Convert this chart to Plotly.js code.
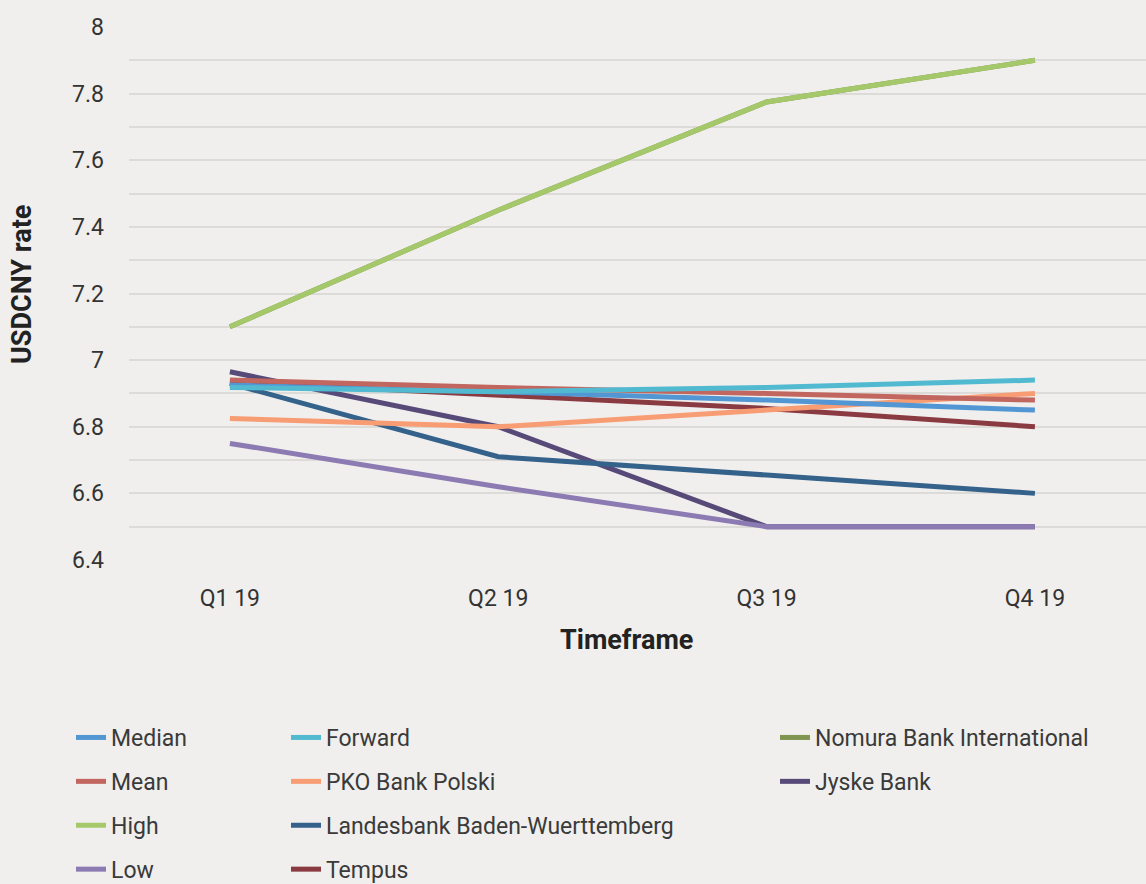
<!DOCTYPE html>
<html>
<head>
<meta charset="utf-8">
<script src="https://cdn.plot.ly/plotly-3.0.1.min.js"></script>
<style>
  html, body { margin: 0; padding: 0; background: #f0efed; }
  #chart { width: 1146px; height: 884px; }
</style>
</head>
<body>
<div id="chart"></div>
<script>
// ---- Data ----
const quarters = ["Q1 19", "Q2 19", "Q3 19", "Q4 19"];

const median   = [6.925, 6.905, 6.880, 6.850];
const mean     = [6.940, 6.918, 6.900, 6.880];
const high     = [7.100, 7.450, 7.775, 7.900];
const low      = [6.750, 6.620, 6.500, 6.500];
const forward  = [6.918, 6.905, 6.918, 6.940];
const pko      = [6.825, 6.800, 6.850, 6.900];
const lbbw     = [6.930, 6.710, 6.655, 6.600];
const tempus   = [6.935, 6.895, 6.855, 6.800];
const nomura   = [7.100, 7.450, 7.775, 7.900];
const jyske    = [6.965, 6.800, 6.500, 6.500];

const xTitle = "Timeframe";
const yTitle = "USDCNY rate";

// ---- Series definitions (draw order) ----
const series = [
  {name: "Nomura Bank International", y: nomura, color: "#7f9550", legend: "legend3", rank: 1},
  {name: "Jyske Bank",                y: jyske,  color: "#574a78", legend: "legend3", rank: 2},
  {name: "Tempus",                    y: tempus, color: "#8a3a41", legend: "legend2", rank: 4},
  {name: "Landesbank Baden-Wuerttemberg", y: lbbw, color: "#34628a", legend: "legend2", rank: 3},
  {name: "PKO Bank Polski",           y: pko,    color: "#f89c74", legend: "legend2", rank: 2},
  {name: "Median",                    y: median, color: "#5297d3", legend: "legend",  rank: 1},
  {name: "Mean",                      y: mean,   color: "#c1675f", legend: "legend",  rank: 2},
  {name: "High",                      y: high,   color: "#a5c86b", legend: "legend",  rank: 3},
  {name: "Low",                       y: low,    color: "#8c7bb2", legend: "legend",  rank: 4},
  {name: "Forward",                   y: forward,color: "#52bad0", legend: "legend2", rank: 1}
];

const traces = series.map(s => ({
  type: "scatter",
  mode: "lines",
  x: quarters,
  y: s.y,
  name: s.name,
  legend: s.legend,
  legendrank: s.rank,
  legendgroup: s.name,
  line: {color: s.color, width: 5},
  hoverinfo: "skip"
}));

const font = "Roboto, Inter, sans-serif";
const legendCommon = {
  xref: "container", yref: "container",
  xanchor: "left", yanchor: "top",
  orientation: "v",
  bgcolor: "rgba(0,0,0,0)",
  font: {family: font, size: 23, color: "#3a3a3a"},
  itemwidth: 30,
  tracegroupgap: 11,
  traceorder: "grouped"
};

const layout = {
  width: 1146,
  height: 884,
  paper_bgcolor: "#f0efed",
  plot_bgcolor: "#f0efed",
  margin: {l: 129, r: 0, t: 27, b: 324, autoexpand: false},
  font: {family: font, color: "#333333"},
  showlegend: true,
  xaxis: {
    type: "category",
    categoryorder: "array",
    categoryarray: quarters,
    range: [-0.376, 3.414],
    showgrid: false,
    zeroline: false,
    showline: false,
    ticks: "",
    ticklabelstandoff: 22,
    tickfont: {family: font, size: 23, color: "#333333"},
    fixedrange: true
  },
  yaxis: {
    range: [6.4, 8],
    dtick: 0.2,
    tick0: 6.4,
    showgrid: true,
    gridcolor: "#dcdbd8",
    gridwidth: 2,
    minor: {dtick: 0.1, showgrid: true, gridcolor: "#dcdbd8", gridwidth: 2},
    zeroline: false,
    showline: false,
    ticks: "",
    ticklabelstandoff: 24,
    tickfont: {family: font, size: 23, color: "#333333"},
    fixedrange: true
  },
  annotations: [
    {text: "<b>" + xTitle + "</b>", xref: "paper", yref: "paper",
     x: 0.4887, y: -0.150, xanchor: "center", yanchor: "middle", showarrow: false,
     font: {family: font, size: 27, color: "#222222"}},
    {text: "<b>" + yTitle + "</b>", xref: "paper", yref: "paper",
     x: -0.1052, y: 0.516, xanchor: "center", yanchor: "middle", showarrow: false,
     textangle: -90,
     font: {family: font, size: 27, color: "#222222"}}
  ],
  legend:  Object.assign({}, legendCommon, {x: 71 / 1146,  y: 1 - 716 / 884}),
  legend2: Object.assign({}, legendCommon, {x: 286 / 1146, y: 1 - 716 / 884}),
  legend3: Object.assign({}, legendCommon, {x: 775 / 1146, y: 1 - 716 / 884})
};

Plotly.newPlot("chart", traces, layout, {displayModeBar: false, staticPlot: true});
</script>
</body>
</html>
